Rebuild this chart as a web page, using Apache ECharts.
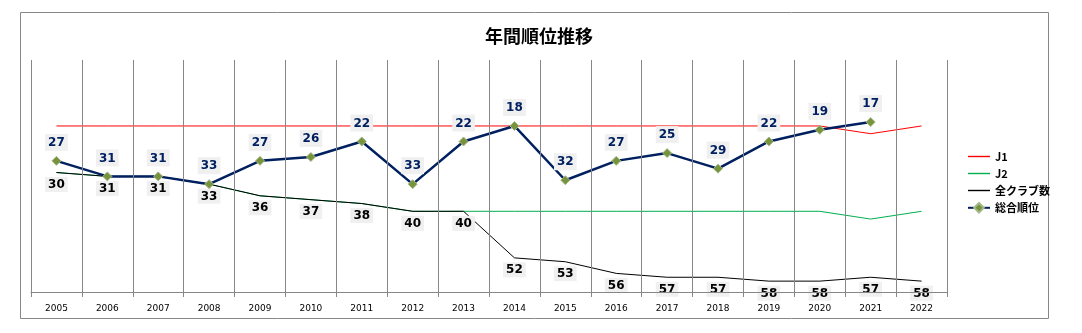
<!DOCTYPE html>
<html>
<head>
<meta charset="utf-8">
<script src="https://cdn.jsdelivr.net/npm/echarts@6/dist/echarts.min.js"></script>
<style>
html,body{margin:0;padding:0;background:#fff;}
#c{width:1082px;height:333px;}
</style>
</head>
<body>
<div id="c"></div>
<script>
var years = ['2005','2006','2007','2008','2009','2010','2011','2012','2013','2014','2015','2016','2017','2018','2019','2020','2021','2022'];
var j1 = [18,18,18,18,18,18,18,18,18,18,18,18,18,18,18,18,20,18];
var j2 = [30,31,31,33,36,37,38,40,40,40,40,40,40,40,40,40,42,40];
var totalClubs = [30,31,31,33,36,37,38,40,40,52,53,56,57,57,58,58,57,58];
var rank = [27,31,31,33,27,26,22,33,22,18,32,27,25,29,22,19,17,null];

var chart = echarts.init(document.getElementById('c'), null, {renderer:'canvas'});
var font = '"DejaVu Sans", Verdana, sans-serif';
var jp = '"Noto Sans CJK JP", sans-serif';
var lineIcon = 'path://M0,0 L22,0 L22,1.4 L0,1.4 Z';
chart.setOption({
  animation:false,
  backgroundColor:'#ffffff',
  title:{
    text:'年間順位推移', left:534, top:22, textAlign:'center',
    textStyle:{fontFamily:jp, fontSize:18, fontWeight:'bold', color:'#000'}
  },
  graphic:[{
    type:'rect', shape:{x:20.5,y:12.5,width:1028,height:306},
    style:{fill:'none', stroke:'#878787', lineWidth:1}, silent:true, z:-1
  }],
  legend:{
    orient:'vertical', left:962, top:146, itemGap:6, itemWidth:22, itemHeight:12,
    textStyle:{fontFamily:jp, fontSize:11, fontWeight:'bold', color:'#000'},
    data:[
      {name:'J1', icon:lineIcon, itemStyle:{color:'#ff0000'}},
      {name:'J2', icon:lineIcon, itemStyle:{color:'#00b050'}},
      {name:'全クラブ数', icon:lineIcon, itemStyle:{color:'#000000'}},
      {name:'総合順位'}
    ]
  },
  grid:{left:31, top:60, width:916, height:232},
  xAxis:{
    type:'category', data:years, boundaryGap:true, z:10,
    axisLine:{lineStyle:{color:'#878787', width:1}},
    axisTick:{show:true, length:5, lineStyle:{color:'#878787'}},
    axisLabel:{fontFamily:font, fontSize:9, color:'#000', margin:12},
    splitLine:{show:true, lineStyle:{color:'#878787', width:1}}
  },
  yAxis:{
    type:'value', inverse:true, min:1, max:60.8,
    axisLine:{show:false}, axisTick:{show:false}, axisLabel:{show:false},
    splitLine:{show:false}
  },
  series:[
    {name:'J1', type:'line', data:j1, symbol:'none', lineStyle:{color:'#ff0000', width:1}, itemStyle:{color:'#ff0000'}, z:2},
    {name:'J2', type:'line', data:j2, symbol:'none', lineStyle:{color:'#00b050', width:1}, itemStyle:{color:'#00b050'}, z:3},
    {name:'全クラブ数', type:'line', data:totalClubs, symbol:'circle', symbolSize:1, showSymbol:true,
      lineStyle:{color:'#000000', width:1}, itemStyle:{color:'rgba(0,0,0,0)', borderWidth:0}, z:4,
      label:{show:true, position:'bottom', distance:4, fontFamily:font, fontSize:12, fontWeight:'bold', color:'#000',
        backgroundColor:'#f0f0f0', padding:[2,3,1,3]}},
    {name:'総合順位', type:'line', data:rank, symbol:'diamond', symbolSize:9,
      lineStyle:{color:'#002060', width:2.5}, itemStyle:{color:'#77933c', borderColor:'#a6b98a', borderWidth:1}, z:5,
      label:{show:true, position:'top', distance:5, fontFamily:font, fontSize:12, fontWeight:'bold', color:'#002060',
        backgroundColor:'#f0f0f0', padding:[3,3,2,3]}}
  ]
});
</script>
</body>
</html>
